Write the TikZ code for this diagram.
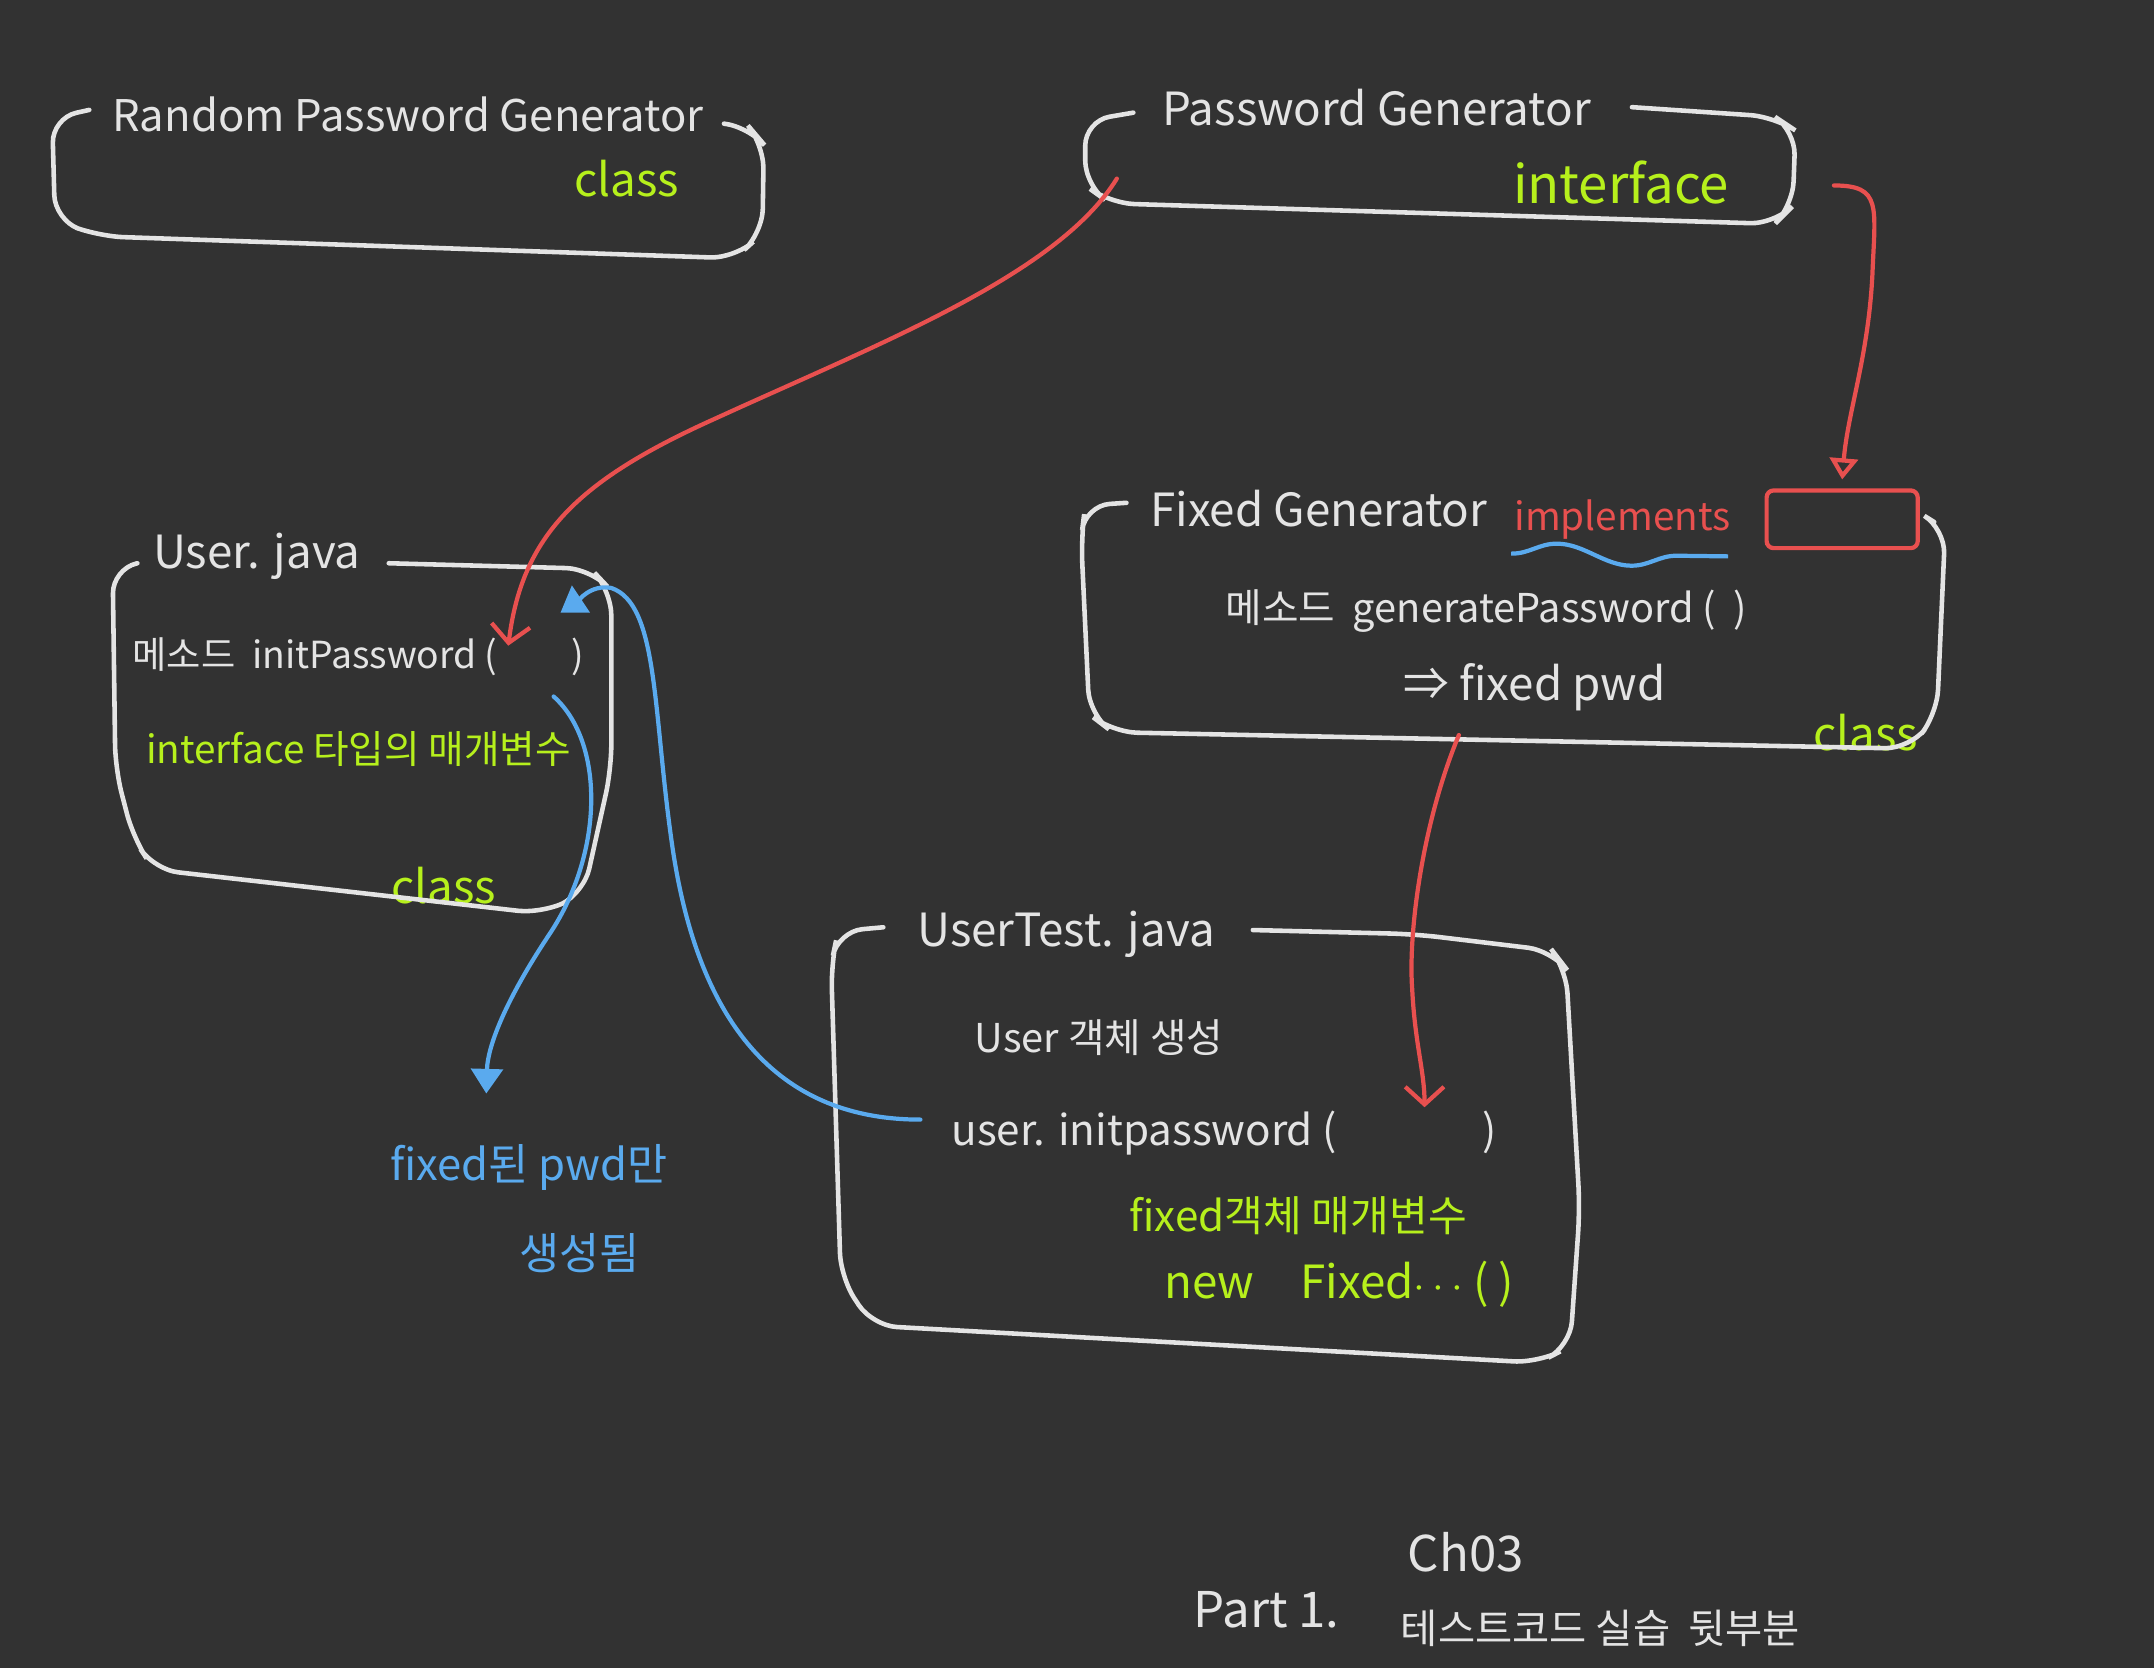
\documentclass[tikz,border=0pt]{standalone}
\usepackage{fontspec}
\setmainfont{Noto Sans CJK KR}
\usepackage{tikz}
\usetikzlibrary{arrows.meta,decorations.pathmorphing}
\usepackage{xcolor}

\definecolor{board}{HTML}{323232}
\definecolor{chalk}{HTML}{E4E4E4}
\definecolor{lime}{HTML}{B6F01C}
\definecolor{redpen}{HTML}{E8504F}
\definecolor{bluepen}{HTML}{5AAAEE}

\tikzset{
  box/.style={draw=chalk, line width=1.3pt, rounded corners=7pt, line cap=round},
  title/.style={text=chalk, font=\fontsize{13}{16}\selectfont},
  body/.style={text=chalk, font=\fontsize{11.3}{14}\selectfont},
  note/.style={text=lime, font=\fontsize{13}{16}\selectfont},
  redarrow/.style={draw=redpen, line width=1.2pt, line cap=round},
  bluearrow/.style={draw=bluepen, line width=1.2pt, line cap=round},
}

\begin{document}
\begin{tikzpicture}[x=0.013737cm, y=-0.013737cm]

  \useasboundingbox (0,0) rectangle (1568,1214);
  \fill[board] (0,0) rectangle (1568,1214);

  % titles of the boxes
  \node[title, font=\fontsize{12.4}{15}\selectfont] (rpg) at (297,83) {Random Password Generator};
  \node[note] (rpgc) at (456,130) {class};
  \node[title] (pg) at (1002,78) {Password Generator};
  \node[note, font=\fontsize{15}{18}\selectfont] (pgi) at (1180,133) {interface};
  \node[title] (fg) at (960,370) {Fixed Generator};
  \node[text=redpen, font=\fontsize{11}{14}\selectfont] (impl) at (1181,378) {implements};
  \node[title] (uj) at (187,405) {User. java};
  \node[title] (utj) at (776,680) {UserTest. java};

  % texts inside the boxes
  \node[body] (fgm) at (1082,445) {메소드\ \ generatePassword (\ \ )};
  \node[body, font=\fontsize{13}{16}\selectfont] (fgp) at (1117,500) {⇒ fixed pwd};
  \node[note] (fgc) at (1358,533) {class};
  \node[body, font=\fontsize{10.6}{13}\selectfont] (ujm) at (261,478) {메소드\ \ initPassword (\qquad)};
  \node[note, font=\fontsize{11}{14}\selectfont] (ujp) at (261,545) {interface 타입의 매개변수};
  \node[note] (ujc) at (323,645) {class};
  \node[body] (utn) at (800,755) {User 객체 생성};
  \node[body, font=\fontsize{12}{15}\selectfont] (uti) at (891,825) {user. initpassword (\qquad\quad\ \ )};
  \node[note, font=\fontsize{12}{15}\selectfont] (utf) at (945,885) {fixed객체 매개변수};
  \node[note] (utw) at (975,935) {new\quad Fixed$\cdots$ ( )};

  % blue remark
  \node[text=bluepen, font=\fontsize{12.4}{15}\selectfont] (bl1) at (385,850) {fixed된 pwd만};
  \node[text=bluepen, font=\fontsize{12.4}{15}\selectfont] (bl2) at (422,912) {생성됨};

  % footer
  \node[body, font=\fontsize{14}{17}\selectfont] (ch) at (1067,1130) {Ch03};
  \node[body, font=\fontsize{14}{17}\selectfont] (part) at (922,1172) {Part 1.};
  \node[body, font=\fontsize{11.5}{14}\selectfont] (sub) at (1165,1185) {테스트코드 실습\ \ 뒷부분};

  % box outlines
  \draw[box] (65,80) -- (38,86) -- (40,160) -- (72,172) -- (535,188) -- (555,170)
    -- (556,105) -- (545,92) -- (527,90);
  \draw[box] (825,82) -- (790,88) -- (790,135) -- (808,148) -- (1292,163)
    -- (1305,150) -- (1307,95) -- (1292,85) -- (1188,78);
  \draw[box] (820,366) -- (790,368) -- (787,392) -- (793,520) -- (810,533)
    -- (1390,545) -- (1410,520) -- (1416,385) -- (1408,380);
  \draw[box] (100,410) -- (82,414) -- (84,560) -- (97,610) -- (112,633)
    -- (395,665) -- (425,650) -- (445,560) -- (445,430) -- (430,414) -- (283,410);
  \draw[box] (643,675) -- (610,678) -- (605,702) -- (612,930) -- (635,965)
    -- (1120,992) -- (1143,980) -- (1150,880) -- (1140,705) -- (1130,692)
    -- (1030,680) -- (912,677);

  % empty slot after implements
  \coordinate (SLOTa) at (1286,357);
  \coordinate (SLOTb) at (1396,399);
  \draw[draw=redpen, line width=1.2pt, rounded corners=2pt] (SLOTa) rectangle (SLOTb);
  \draw[bluepen, line width=1.2pt, decorate,
    decoration={snake, segment length=42, amplitude=3}] (1100,403) -- (1258,405);

  % red arrows
  \coordinate (PGfoot) at (813,130);
  \coordinate (UJslot) at (370,470);
  \draw[redarrow, -{Straight Barb[length=5pt,width=11pt]}] (PGfoot)
    .. controls (770,200) and (640,250) .. (520,305)
    .. controls (420,350) and (380,390) .. (UJslot);
  \coordinate (PGside) at (1335,135);
  \coordinate (SLOTtop) at (1341,349);
  \draw[redarrow, -{Triangle[open,length=6pt,width=8pt]}] (PGside)
    .. controls (1370,135) and (1365,150) .. (1363,200)
    .. controls (1360,260) and (1345,300) .. (SLOTtop);
  \coordinate (FGfoot) at (1062,535);
  \coordinate (UTslot) at (1037,806);
  \draw[redarrow, -{Straight Barb[length=5pt,width=11pt]}] (FGfoot)
    .. controls (1035,600) and (1025,680) .. (1028,720)
    .. controls (1030,760) and (1037,780) .. (UTslot);

  % blue arrows
  \coordinate (UTcall) at (670,815);
  \coordinate (UJend) at (408,446);
  \draw[bluearrow, -{Triangle[length=7pt,width=9pt]}] (UTcall)
    .. controls (570,815) and (510,750) .. (490,620)
    .. controls (475,520) and (480,440) .. (445,428)
    .. controls (430,425) and (420,438) .. (UJend);
  \coordinate (UJarg) at (403,507);
  \coordinate (BLtip) at (354,796);
  \draw[bluearrow, -{Triangle[length=7pt,width=9pt]}] (UJarg)
    .. controls (440,540) and (440,620) .. (400,680)
    .. controls (370,725) and (355,760) .. (BLtip);

\end{tikzpicture}
\end{document}
